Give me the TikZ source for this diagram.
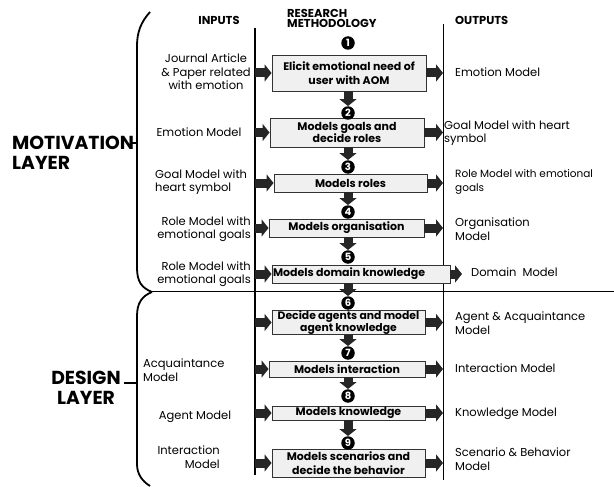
\documentclass[tikz,border=0pt]{standalone}
\usepackage{fontspec}
\setmainfont{Poppins}
\usetikzlibrary{arrows.meta}
\definecolor{boxgray}{HTML}{F0F0F0}
\definecolor{arrgray}{HTML}{262626}

\begin{document}
\begin{tikzpicture}[x=1pt,y=-1pt,
  methbox/.style={draw=black!80,fill=boxgray,line width=0.9pt,align=center,inner sep=1pt,
    font=\fontsize{11}{14}\selectfont\bfseries},
  numdot/.style={circle,fill=black,text=white,inner sep=0pt,minimum size=13.5pt,
    font=\fontsize{10}{10}\selectfont\bfseries},
  lbl/.style={inner sep=0pt,font=\fontsize{11.5}{13.5}\selectfont},
  head/.style={inner sep=0pt,font=\fontsize{11.5}{10}\selectfont\bfseries,align=left},
  layer/.style={inner sep=0pt,font=\fontsize{18.8}{20}\selectfont\bfseries,align=left},
  blk/.style={draw=arrgray,line width=9pt,-{Triangle[length=7pt,width=17pt]}},
  brace/.style={line width=1.8pt}]
\useasboundingbox (0,0) rectangle (614,487);

% column lines
\coordinate (inL) at (255,28);
\coordinate (inLb) at (255,475);
\coordinate (outL) at (443,24);
\coordinate (outLb) at (443,480);
\coordinate (sepL) at (150,291);
\coordinate (sepR) at (614,291);
\draw[line width=1.1pt] (inL) -- (inLb);
\draw[line width=1pt] (outL) -- (outLb);
\draw[line width=1pt] (sepL) -- (sepR);

% headers
\node[head] (hin) at (219,20) {INPUTS};
\node[head,anchor=north west] (hmeth) at (287,9) {RESEARCH\\METHODOLOGY};
\node[head,anchor=west] (hout) at (455,20) {OUTPUTS};

% methodology boxes
\node[methbox,minimum width=154pt,minimum height=36pt] (b1) at (349,73) {Elicit emotional need of\\user with AOM};
\node[methbox,minimum width=154pt,minimum height=29pt,font=\fontsize{11}{12.5}\selectfont\bfseries] (b2) at (347,132.5) {Models goals and\\decide roles};
\node[methbox,minimum width=153pt,minimum height=18pt] (b3) at (350.5,183) {Models roles};
\node[methbox,minimum width=155pt,minimum height=18pt] (b4) at (346.5,228) {Models organisation};
\node[methbox,minimum width=178pt,minimum height=18pt,text width=176pt,align=flush left,inner xsep=0.5pt] (b5) at (361,274) {Models domain knowledge};
\node[methbox,minimum width=153pt,minimum height=21pt,inner sep=0pt,font=\fontsize{10.8}{10.5}\selectfont\bfseries] (b6) at (348.5,322.5) {Decide agents and model\\agent knowledge};
\node[methbox,minimum width=156pt,minimum height=16pt,inner ysep=0pt] (b7) at (347,369) {Models interaction};
\node[methbox,minimum width=153pt,minimum height=14pt,inner ysep=0pt] (b8) at (348.5,413) {Models knowledge};
\node[methbox,minimum width=153pt,minimum height=28pt] (b9) at (348.5,463) {Models scenarios and\\decide the behavior};

% step numbers
\node[numdot] (n1) at (348,43) {1};
\node[numdot] (n2) at (348,113) {2};
\node[numdot] (n3) at (348,167) {3};
\node[numdot] (n4) at (348,212) {4};
\node[numdot] (n5) at (348,257) {5};
\node[numdot] (n6) at (348,303) {6};
\node[numdot] (n7) at (348,353) {7};
\node[numdot] (n8) at (348,396) {8};
\node[numdot] (n9) at (348,443) {9};

% down arrows
\draw[blk] (b1.south -| n2) -- (n2.north);
\draw[blk] (b2.south -| n3) -- (n3.north);
\draw[blk] (b3.south -| n4) -- (n4.north);
\draw[blk] (b4.south -| n5) -- (n5.north);
\draw[blk] (b5.south -| n6) -- (n6.north);
\draw[blk] (b6.south -| n7) -- (n7.north);
\draw[blk] (b7.south -| n8) -- (n8.north);
\draw[blk] (b8.south -| n9) -- (n9.north);

% inputs
\node[lbl,align=center] (in1) at (206,72) {Journal Article\\\& Paper related\\with emotion};
\node[lbl] (in2) at (199,132) {Emotion Model};
\node[lbl,align=left,anchor=west] (in3) at (155,182) {Goal Model with\\heart symbol};
\node[lbl,align=right,anchor=east] (in4) at (251,229) {Role Model with\\emotional goals};
\node[lbl,align=right,anchor=east] (in5) at (251,274) {Role Model with\\emotional goals};
\node[lbl,align=left,anchor=west] (in6) at (143,370) {Acquaintance\\Model};
\node[lbl] (in7) at (195,417) {Agent Model};
\node[lbl,align=right,anchor=east] (in8) at (220,457) {Interaction\\Model};

\draw[blk] (b1.west -| inL) -- (b1.west);
\draw[blk] (b2.west -| inL) -- (b2.west);
\draw[blk] (b3.west -| inL) -- (b3.west);
\draw[blk] (b4.west -| inL) -- (b4.west);
\draw[blk] (b5.west -| inL) -- (b5.west);
\draw[blk] (b6.west -| inL) -- (b6.west);
\draw[blk] (b7.west -| inL) -- (b7.west);
\draw[blk] (b8.west -| inL) -- (b8.west);
\draw[blk] (b9.west -| inL) -- (b9.west);

% outputs
\node[lbl,anchor=west] (out1) at (455,72) {Emotion Model};
\node[lbl,align=left,anchor=west] (out2) at (444,133) {Goal Model with heart\\symbol};
\node[lbl,align=left,anchor=west,font=\fontsize{10.5}{13.5}\selectfont] (out3) at (455,182) {Role Model with emotional\\goals};
\node[lbl,align=left,anchor=west] (out4) at (455,229) {Organisation\\Model};
\node[lbl,anchor=west] (out5) at (471,272) {Domain\ \ Model};
\node[lbl,align=left,anchor=west] (out6) at (455,323) {Agent \& Acquaintance\\Model};
\node[lbl,anchor=west] (out7) at (455,368) {Interaction Model};
\node[lbl,anchor=west] (out8) at (455,414) {Knowledge Model};
\node[lbl,align=left,anchor=west] (out9) at (455,459) {Scenario \& Behavior\\Model};

\coordinate (d5) at (462,274);
\draw[blk] (b1.east) -- (b1.east -| outL);
\draw[blk] (b2.east) -- (b2.east -| outL);
\draw[blk] (b3.east) -- (b3.east -| outL);
\draw[blk] (b4.east) -- (b4.east -| outL);
\draw[blk] (b5.east) -- (d5);
\draw[blk] (b6.east) -- (b6.east -| outL);
\draw[blk] (b7.east) -- (b7.east -| outL);
\draw[blk] (b8.east) -- (b8.east -| outL);
\draw[blk] (b9.east) -- (b9.east -| outL);

% layers
\node[layer,anchor=north west] (motiv) at (12,136) {MOTIVATION\\LAYER};
\node[layer,align=center,anchor=north] (design) at (86,371) {DESIGN\\LAYER};
\draw[brace] (150,12) .. controls (141,22) and (137,32) .. (137,46) -- (137,268)
  .. controls (137,282) and (142,288) .. (152,292);
\draw[brace] (130,143) -- (137,143);
\draw[brace] (152,292) .. controls (142,296) and (137,303) .. (137,316) -- (137,464)
  .. controls (137,474) and (142,481) .. (150,486);
\draw[brace] (124,383) -- (137,383);
\end{tikzpicture}
\end{document}
